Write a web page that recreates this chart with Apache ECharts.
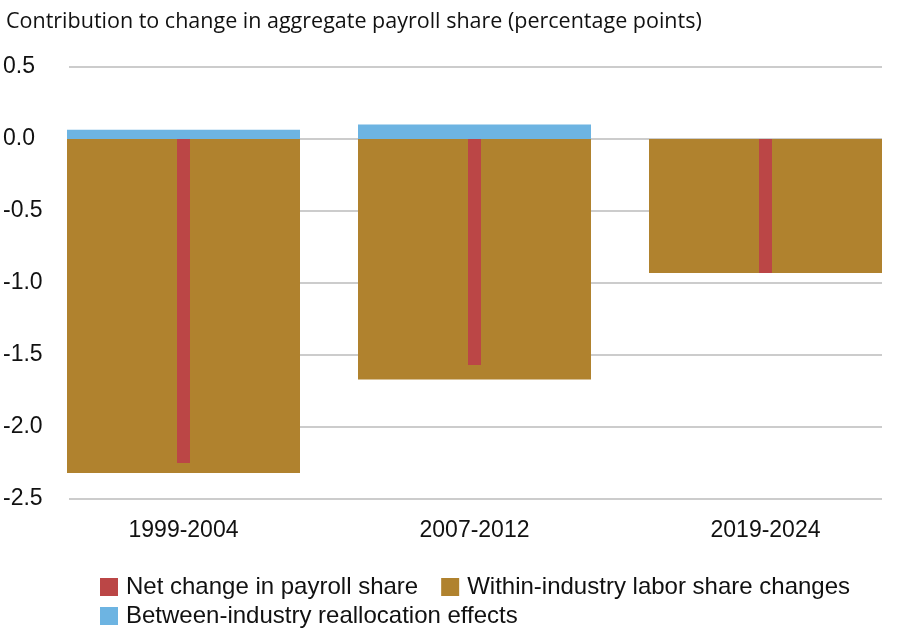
<!DOCTYPE html>
<html>
<head>
<meta charset="utf-8">
<script src="https://cdn.jsdelivr.net/npm/echarts@6/dist/echarts.min.js"></script>
<style>
html,body{margin:0;padding:0;background:#fff;}
#chart{width:920px;height:632px;}
</style>
</head>
<body>
<div id="chart"></div>
<script>
const categories = ['1999-2004', '2007-2012', '2019-2024'];
const netChange = [-2.25, -1.57, -0.93];
const withinIndustry = [-2.32, -1.67, -0.93];
const betweenIndustry = [0.065, 0.1, 0];
const yMin = -2.5, yMax = 0.5, yStep = 0.5;
const titleText = 'Contribution to change in aggregate payroll share (percentage points)';
const seriesNames = ['Net change in payroll share', 'Within-industry labor share changes', 'Between-industry reallocation effects'];

const colors = { net: '#BB4646', within: '#B0822E', between: '#6DB4E2' };
const gridGrey = '#cccccc';
const font = 'Liberation Sans, Arial, sans-serif';

const chart = echarts.init(document.getElementById('chart'));
chart.setOption({
  animation: false,
  backgroundColor: '#ffffff',
  title: {
    text: titleText, left: 1, top: 6,
    textStyle: { fontFamily: 'Open Sans', fontSize: 21.5, fontWeight: 'normal', color: '#111' }
  },
  legend: [
    {
      data: [seriesNames[0], seriesNames[1]],
      left: 95, top: 570, itemWidth: 18, itemHeight: 18, itemGap: 23,
      icon: 'rect', textStyle: { fontFamily: font, fontSize: 24, color: '#111', padding: [0, 0, 0, 3] }
    },
    {
      data: [seriesNames[2]],
      left: 95, top: 599, itemWidth: 18, itemHeight: 18,
      icon: 'rect', textStyle: { fontFamily: font, fontSize: 24, color: '#111', padding: [0, 0, 0, 3] }
    }
  ],
  grid: [
    { left: 67, right: 38, top: 67, bottom: 133 },
    { left: 38, right: 9, top: 67, bottom: 133 }
  ],
  xAxis: [
    { gridIndex: 0, type: 'category', data: categories, show: false },
    {
      gridIndex: 1, type: 'category', data: categories,
      axisLine: { show: false },
      axisTick: { show: true, alignWithLabel: true, length: 10, lineStyle: { color: gridGrey, width: 2 } },
      axisLabel: { fontFamily: font, fontSize: 23, color: '#111', margin: 20 }
    },
    { gridIndex: 1, type: 'category', data: categories, show: false }
  ],
  yAxis: [
    {
      gridIndex: 0, type: 'value', min: yMin, max: yMax, interval: yStep,
      axisLine: { show: false }, axisTick: { show: false },
      splitLine: { show: true, lineStyle: { color: gridGrey, width: 2 } },
      axisLabel: {
        fontFamily: font, fontSize: 23, color: '#111', align: 'left', margin: 66,
        formatter: v => v.toFixed(1)
      }
    },
    { gridIndex: 1, type: 'value', min: yMin, max: yMax, interval: yStep, show: false, splitLine: { show: false } }
  ],
  series: [
    {
      name: seriesNames[1], type: 'bar', xAxisIndex: 1, yAxisIndex: 1, stack: 'decomp',
      data: withinIndustry, barWidth: 233, itemStyle: { color: colors.within }
    },
    {
      name: seriesNames[2], type: 'bar', xAxisIndex: 1, yAxisIndex: 1, stack: 'decomp',
      data: betweenIndustry, barWidth: 233, itemStyle: { color: colors.between }
    },
    {
      name: seriesNames[0], type: 'bar', xAxisIndex: 2, yAxisIndex: 1, z: 5,
      data: netChange, barWidth: 13, itemStyle: { color: colors.net }
    }
  ]
});
</script>
</body>
</html>
